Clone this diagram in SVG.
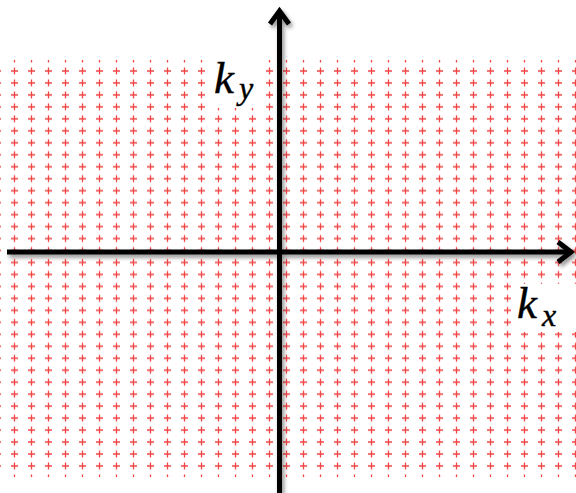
<svg xmlns="http://www.w3.org/2000/svg" width="576" height="493" viewBox="0 0 576 493">
  <style>
    .axis { fill: none; stroke: #000; stroke-width: 5; stroke-linecap: butt; stroke-linejoin: miter; }
    .lbl { font-family: "Liberation Serif", "Times New Roman", serif; font-style: italic; fill: #000; stroke: #000; stroke-width: 0.4; }
    .plus { stroke: #f04545; stroke-width: 1.3; fill: none; }
  </style>
  <defs>
    <pattern id="plusgrid" patternUnits="userSpaceOnUse" x="6" y="53.015" width="17" height="11.97">
      <path class="plus" d="M5 5.985H12M8.5 2.5V9.5"/>
    </pattern>
    <filter id="shadow" x="-10%" y="-10%" width="120%" height="120%">
      <feGaussianBlur in="SourceAlpha" stdDeviation="2.2"/>
      <feOffset dx="2" dy="3" result="b"/>
      <feComponentTransfer><feFuncA type="linear" slope="0.45"/></feComponentTransfer>
      <feMerge><feMergeNode/><feMergeNode in="SourceGraphic"/></feMerge>
    </filter>
  </defs>
  <rect width="576" height="493" fill="#fff"/>
  <g id="grid">
    <rect x="0" y="60" width="576" height="417" fill="url(#plusgrid)"/>
  </g>
  <g id="label-ky">
    <rect x="208" y="55" width="54" height="53" fill="#fff"/>
    <text class="lbl" x="214" y="93" font-size="45">k</text>
    <text class="lbl" x="239" y="99" font-size="32">y</text>
  </g>
  <g id="label-kx">
    <rect x="514" y="284" width="62" height="48" fill="#fff"/>
    <text class="lbl" x="517" y="318" font-size="45">k</text>
    <text class="lbl" x="542" y="326" font-size="32">x</text>
  </g>
  <g id="connectors" filter="url(#shadow)">
    <path class="axis" d="M7 252H571"/>
    <path class="axis" d="M558 242L571 252L558 262"/>
    <path class="axis" d="M279.5 493V11"/>
    <path class="axis" d="M270 24L279.5 11L289 24"/>
  </g>
</svg>
